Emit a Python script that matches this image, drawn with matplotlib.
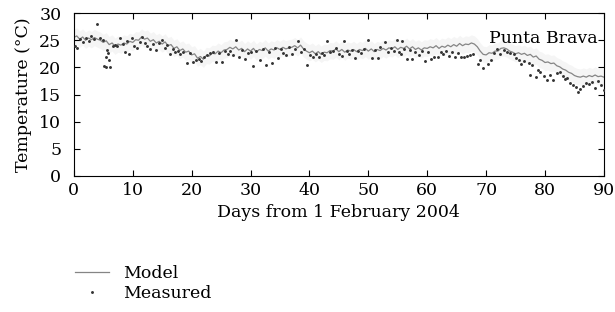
import numpy as np
import matplotlib
matplotlib.use('Agg')
import matplotlib.pyplot as plt

plt.rcParams['font.family'] = ['DejaVu Serif']

# model temperature, every half day from day 0 to day 90
model_day = np.arange(0, 90.5, 0.5)
model_temp = [
    25.5, 25.8, 25.2, 25.6, 25.0, 25.4, 25.1, 25.5, 25.2, 25.0,
    24.6, 24.9, 24.2, 24.5, 23.9, 24.3, 24.1, 24.5, 24.3, 24.8,
    24.6, 25.1, 25.0, 25.6, 25.2, 25.4, 24.8, 25.1, 24.5, 24.8,
    24.3, 24.7, 24.0, 24.2, 23.5, 23.8, 23.1, 23.4, 22.8, 23.0,
    22.3, 22.5, 21.7, 22.0, 21.5, 22.2, 22.1, 22.6, 22.5, 23.0,
    22.7, 23.2, 23.3, 23.7, 23.4, 23.8, 23.2, 23.5, 22.9, 23.4,
    23.0, 23.5, 22.8, 23.3, 23.1, 23.6, 23.0, 23.4, 23.2, 23.6,
    23.3, 23.7, 23.4, 23.6, 23.7, 24.0, 23.6, 24.1, 23.4, 23.0,
    22.7, 23.0, 22.5, 22.9, 22.4, 22.8, 22.7, 23.1, 23.0, 23.4,
    22.9, 23.3, 22.8, 23.2, 23.0, 23.3, 22.9, 23.3, 23.1, 23.5,
    23.0, 23.4, 22.9, 23.3, 23.1, 23.5, 23.2, 23.6, 23.4, 23.8,
    23.3, 23.7, 23.5, 23.9, 23.4, 23.8, 23.3, 23.6, 23.2, 23.6,
    23.5, 23.8, 23.6, 24.0, 23.5, 23.9, 23.7, 24.1, 23.8, 24.2,
    23.9, 24.4, 24.0, 24.3, 24.2, 24.5, 24.3, 23.8, 23.0, 22.4,
    22.3, 22.7, 22.6, 23.0, 23.0, 23.5, 23.6, 23.4, 23.0, 22.8,
    22.5, 22.7, 22.4, 22.6, 22.2, 22.4, 21.9, 22.1, 21.5, 21.3,
    20.9, 21.0, 20.7, 20.8, 20.3, 20.1, 19.7, 19.5, 19.1, 18.9,
    18.5, 18.3, 18.2, 18.4, 18.2, 18.5, 18.3, 18.6, 18.3, 18.4,
    18.2,
]

# measured temperature
meas_day = [
    0.2, 0.6, 1.0, 1.5, 2.0, 2.5, 3.0, 3.5, 3.9, 4.4, 4.9, 5.2, 5.4, 5.5, 5.7,
    5.8, 5.9, 6.1, 6.6, 7.0, 7.4, 7.8, 8.3, 8.7, 9.0, 9.4, 9.8, 10.3, 10.8,
    11.2, 11.6, 12.1, 12.5, 13.0, 13.4, 13.9, 14.4, 14.9, 15.4, 15.8, 16.3,
    16.8, 17.2, 17.7, 18.1, 18.6, 19.2, 19.7, 20.2, 20.7, 21.2, 21.6, 22.1,
    22.6, 23.1, 23.6, 24.2, 24.7, 25.2, 25.7, 26.2, 26.6, 27.1, 27.5, 28.0,
    28.5, 29.0, 29.5, 30.0, 30.4, 31.0, 31.6, 32.1, 32.6, 33.1, 33.6, 34.1,
    34.6, 35.1, 35.6, 36.1, 36.6, 37.1, 37.6, 38.0, 38.5, 39.0, 39.6, 40.1,
    40.6, 41.1, 41.6, 42.1, 42.5, 43.0, 43.5, 44.0, 44.5, 45.0, 45.6, 45.8,
    46.3, 46.8, 47.3, 47.8, 48.3, 48.8, 49.3, 50.0, 50.7, 51.2, 51.7, 52.0,
    52.8, 53.3, 53.8, 54.3, 54.9, 55.2, 55.6, 55.7, 56.1, 56.5, 57.0, 57.5,
    58.0, 58.6, 59.1, 59.7, 60.2, 60.6, 61.1, 61.8, 62.3, 62.6, 63.2, 63.7,
    64.2, 64.7, 65.2, 65.7, 66.2, 66.7, 67.2, 67.7, 68.6, 69.0, 69.5, 70.3,
    70.9, 71.4, 71.8, 72.4, 73.0, 73.5, 74.0, 74.7, 75.1, 75.5, 76.0, 76.5,
    77.3, 77.5, 77.8, 78.4, 78.8, 79.2, 79.8, 80.4, 80.9, 81.4, 82.0, 82.5,
    83.0, 83.4, 83.8, 84.2, 84.8, 85.3, 85.6, 86.0, 86.5, 87.0, 87.4, 88.0,
    88.5, 89.0, 89.5, 90.0,
]
meas_temp = [
    24.0, 23.6, 25.2, 24.6, 25.4, 24.8, 25.8, 25.3, 28.0, 25.5, 25.0, 20.3,
    22.0, 20.0, 23.2, 22.6, 21.4, 20.0, 24.0, 24.2, 24.0, 25.5, 24.3, 22.8,
    24.9, 22.4, 25.5, 24.0, 23.6, 24.6, 25.6, 24.5, 23.9, 23.4, 24.4, 23.2,
    24.5, 25.0, 23.5, 24.2, 22.5, 23.4, 22.8, 23.0, 22.4, 22.8, 20.9, 22.6,
    21.0, 21.4, 21.6, 21.2, 22.0, 22.3, 22.6, 22.9, 21.0, 22.7, 21.0, 23.0,
    22.4, 23.1, 22.3, 25.0, 22.0, 23.2, 21.5, 22.6, 22.8, 20.3, 23.0, 21.4,
    23.4, 20.5, 22.8, 20.9, 23.5, 21.8, 23.3, 22.6, 22.3, 23.8, 22.5, 23.4,
    24.9, 22.8, 23.3, 20.4, 22.2, 21.9, 22.4, 21.9, 22.6, 22.2, 24.9, 22.8,
    23.0, 23.6, 22.4, 22.1, 24.9, 23.1, 22.5, 23.2, 21.8, 23.0, 22.6, 23.3,
    25.0, 21.7, 23.2, 21.7, 23.8, 24.7, 22.8, 23.5, 23.1, 25.0, 22.9, 22.4,
    24.8, 23.3, 21.6, 23.2, 21.6, 22.9, 22.2, 23.0, 21.2, 22.8, 21.6, 22.0,
    22.0, 22.8, 22.4, 23.0, 22.1, 22.9, 21.9, 22.6, 22.0, 22.0, 22.1, 22.2,
    22.4, 20.7, 21.3, 19.9, 20.6, 21.4, 22.6, 23.3, 22.5, 23.2, 22.9, 22.6,
    22.5, 21.8, 21.4, 20.7, 21.2, 20.8, 18.6, 20.4, 18.3, 19.6, 19.2, 18.5,
    17.6, 18.6, 17.6, 18.9, 19.2, 18.4, 17.8, 18.0, 17.1, 16.7, 16.3, 15.5,
    16.1, 16.5, 17.2, 16.9, 17.3, 16.2, 17.5, 16.8, 15.8,
]

fs = 12.5

fig = plt.figure(figsize=(6.15, 3.12), dpi=100)
ax = fig.add_axes([0.120, 0.436, 0.862, 0.522])

m = np.array(model_temp)
# faint spread around the model curve
ax.fill_between(model_day, m - 1.5, m + 1.5, color='#f5f5f5', lw=0, zorder=1)
ax.plot(model_day, m, color='#858585', lw=0.9, label='Model', zorder=2)
ax.plot(meas_day, meas_temp, ls='none', marker='o', ms=2.1, mew=0, color='#333333',
        label='Measured', zorder=3)

ax.text(89, 25.4, 'Punta Brava', ha='right', va='center', fontsize=fs)

ax.set_xlim(0, 90)
ax.set_ylim(0, 30)
ax.set_xticks(range(0, 91, 10))
ax.set_yticks(range(0, 31, 5))
ax.tick_params(direction='in', top=True, right=True, labelsize=fs, length=4, width=0.8, pad=4)
ax.tick_params(axis='y', pad=9)
for s in ax.spines.values():
    s.set_linewidth(0.8)
ax.set_xlabel('Days from 1 February 2004', fontsize=fs, labelpad=4)
ax.set_ylabel('Temperature (°C)', fontsize=fs, labelpad=5)

fig.legend(loc='upper left', bbox_to_anchor=(0.096, 0.2), frameon=False,
           fontsize=fs, handlelength=2.0, labelspacing=0.15, handletextpad=0.8,
           markerscale=1.0)

fig.savefig('out.png', dpi=100)
